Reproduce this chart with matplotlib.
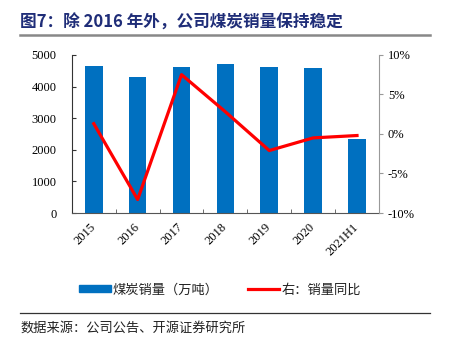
import matplotlib

matplotlib.use("Agg")
import matplotlib.pyplot as plt
from matplotlib.lines import Line2D
from matplotlib.patches import Patch
import numpy as np

years = ["2015", "2016", "2017", "2018", "2019", "2020", "2021H1"]
sales = [4650, 4290, 4610, 4715, 4610, 4580, 2330]  # 万吨
yoy = [1.3, -8.3, 7.5, 2.8, -2.1, -0.5, -0.2]  # %

CJK = ["Noto Sans CJK SC", "DejaVu Sans"]
SERIF = "Liberation Serif"

fig = plt.figure(figsize=(4.49, 3.43), dpi=100)
ax = fig.add_axes([0.160, 0.379, 0.684, 0.461])
ax2 = ax.twinx()

x = np.arange(len(years))
ax.bar(x, sales, width=0.4, color="#0070C0", zorder=2)
ax2.plot(x, yoy, color="#FF0000", lw=2.3, zorder=3)

ax.set_xlim(-0.5, len(years) - 0.5)
ax.set_ylim(0, 5000)
ax.set_yticks(range(0, 5001, 1000))
ax2.set_ylim(-10, 10)
ax2.set_yticks([-10, -5, 0, 5, 10])
ax2.set_yticklabels([f"{v}%" for v in [-10, -5, 0, 5, 10]])

ax.set_xticks(x)
ax.set_xticklabels(years, rotation=45, ha="right", va="center",
                   rotation_mode="anchor", fontfamily=SERIF, fontsize=9)
ax.set_xticks(np.arange(-0.5, len(years)), minor=True)
ax.tick_params(axis="x", which="major", length=0, pad=9)
ax.tick_params(axis="x", which="minor", length=3, direction="in", color="#555555")
ax.tick_params(axis="y", direction="in", length=3, labelsize=9, pad=11, color="#333333")
ax2.tick_params(axis="y", direction="out", length=3, labelsize=9, color="#999999")
for lab in ax.get_yticklabels() + ax2.get_yticklabels():
    lab.set_fontfamily(SERIF)

for a in (ax, ax2):
    a.spines["top"].set_visible(False)
ax.spines["right"].set_visible(False)
ax2.spines["left"].set_visible(False)
ax2.spines["bottom"].set_visible(False)
ax.spines["left"].set_color("#333333")
ax.spines["bottom"].set_color("#555555")
ax2.spines["right"].set_color("#999999")

# title and rules
fig.text(0.045, 0.935, "图7：除 2016 年外，公司煤炭销量保持稳定", fontfamily=CJK,
         fontsize=12, fontweight="bold", color="#1F2D78", va="center")
fig.add_artist(Line2D([0.045, 0.958], [0.897, 0.897], color="#888888", lw=1.8))
fig.add_artist(Line2D([0.045, 0.958], [0.087, 0.087], color="#333333", lw=0.9))
fig.text(0.045, 0.043, "数据来源：公司公告、开源证券研究所", fontfamily=CJK,
         fontsize=9.5, color="#222222", va="center")

handles = [Patch(color="#0070C0"), Line2D([], [], color="#FF0000", lw=2.3)]
leg = fig.legend(handles, ["煤炭销量（万吨）", "右：销量同比"], loc="center",
                 bbox_to_anchor=(0.49, 0.155), ncol=2, frameon=False,
                 prop={"family": CJK, "size": 9.5}, handlelength=2.4,
                 handleheight=0.45, columnspacing=2.2, handletextpad=0.15)
for t in leg.get_texts():
    t.set_color("#222222")

fig.savefig("out.png", dpi=100)
